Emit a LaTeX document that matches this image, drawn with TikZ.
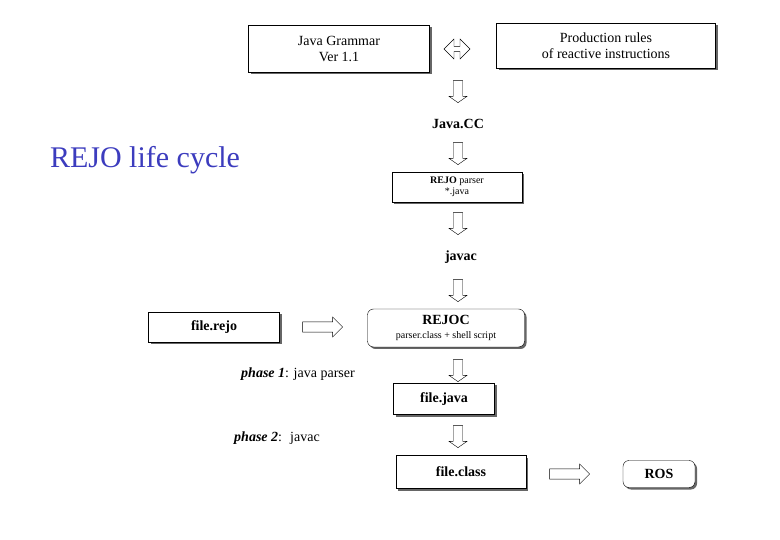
\documentclass[tikz,border=0pt]{standalone}
\usepackage{fontspec}
\setmainfont{Liberation Serif}
\usetikzlibrary{shapes.arrows}
\usetikzlibrary{shadows}
\usetikzlibrary{positioning}
\definecolor{titleblue}{RGB}{60,60,190}

\begin{document}
\begin{tikzpicture}[x=1pt, y=-1pt,
                box/.style={draw, fill=white, inner sep=0pt, align=center,
                        font=\fontsize{14}{16}\selectfont,
                        drop shadow={shadow xshift=2pt, shadow yshift=-2pt,
                                fill=black!60, opacity=1}},
                round/.style={box, rounded corners=6pt},
                down/.style={single arrow, draw, fill=white, rotate=-90,
                        minimum height=22pt, minimum width=18pt,
                        single arrow head extend=2pt, single arrow tip angle=110,
                        inner sep=2pt},
                right/.style={single arrow, draw, fill=white,
                        minimum height=40pt, minimum width=20pt,
                        single arrow head extend=3pt, inner sep=3pt},
                label/.style={font=\fontsize{14}{16}\selectfont},
            ]
            \useasboundingbox (0,0) rectangle (780,540);

            \node[titleblue, font=\fontsize{30}{32}\selectfont] (title) at (145,160) {REJO life cycle};

            \node[box, minimum width=181pt, minimum height=47pt] (grammar) at (339,49) {Java Grammar\\Ver 1.1};
            \node[box, minimum width=219pt, minimum height=45pt] (rules) at (606,46) {Production rules\\of reactive instructions};
            \node[double arrow, draw, fill=white, minimum height=26pt, minimum width=20pt,
                double arrow head extend=2pt, inner sep=0.5pt] (both) at (457,49) {};

            \node[down] (a1) at (458,90) {};
            \node[label] (javacc) at (458,124) {\textbf{Java.CC}};
            \node[down] (a2) at (458,152) {};
            \node[box, minimum width=130pt, minimum height=30pt, font=\fontsize{10}{11}\selectfont] (parser) at (457,187) {\textbf{REJO} parser\\*.java};
            \node[down] (a3) at (458,222) {};
            \node[label] (javac) at (461,257) {\textbf{javac}};
            \node[down] (a4) at (458,289) {};

            \node[box, minimum width=131pt, minimum height=30pt] (rejo) at (214,327) {\textbf{file.rejo}};
            \node[right] (a5) at (320,327) {};
            \node[round, minimum width=157pt, minimum height=38pt] (rejoc) at (446,328)
                {\textbf{REJOC}\\[-2pt]{\fontsize{10}{11}\selectfont parser.class + shell script}};
            \node[down] (a6) at (458,369) {};
            \node[label] (phase1) at (298,374) {\textbf{\textit{phase 1}}: java parser};
            \node[box, minimum width=101pt, minimum height=31pt] (java) at (444,399) {\textbf{file.java}};
            \node[down] (a7) at (458,435) {};
            \node[label] (phase2) at (277,438) {\textbf{\textit{phase 2}}:~ javac};
            \node[box, minimum width=130pt, minimum height=33pt] (class) at (461,472) {\textbf{file.class}};
            \node[right] (a8) at (567,474) {};
            \node[round, minimum width=72pt, minimum height=27pt] (ros) at (659,474) {\textbf{ROS}};
        \end{tikzpicture}
\end{document}
